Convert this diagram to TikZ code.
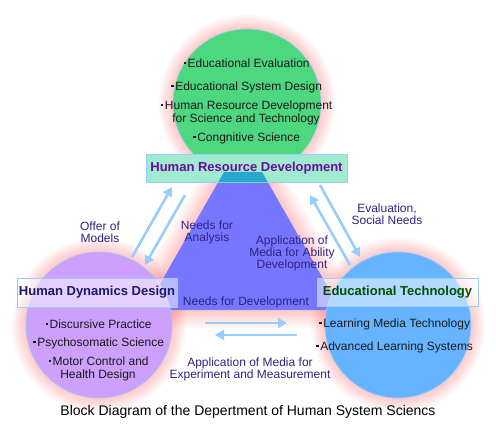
\documentclass[tikz,border=0pt]{standalone}
\usepackage{fontspec}
\setmainfont{Liberation Sans}
\usepackage{xcolor}
\usepackage{tikz}
\usetikzlibrary{arrows.meta, calc}

\definecolor{verdecerchio}{RGB}{77,216,128}
\definecolor{violacerchio}{RGB}{204,160,252}
\definecolor{azzurrocerchio}{RGB}{102,180,255}
\definecolor{triangolo}{RGB}{118,118,255}
\definecolor{bordo}{RGB}{153,204,255}
\definecolor{etich}{RGB}{45,35,130}
\definecolor{menta}{RGB}{160,234,208}
\definecolor{ottanio}{RGB}{40,168,204}
\definecolor{porpora}{RGB}{110,10,160}
\definecolor{blunotte}{RGB}{25,25,100}
\definecolor{verdescuro}{RGB}{0,80,0}

% puntino quadrato davanti alle voci
\newcommand{\pallino}{\hspace{1.5pt}\rule[3.4pt]{2.2pt}{2.2pt}\hspace{1.6pt}}

\begin{document}
\begin{tikzpicture}[x=1pt,y=-1pt,
    voce/.style={font=\fontsize{12}{12.5}\selectfont,text=black!90,align=center,inner sep=0pt},
    etichetta/.style={font=\fontsize{12}{12}\selectfont,text=etich,align=center,inner sep=0pt},
    riquadro/.style={rectangle,draw=bordo,line width=0.8pt,minimum height=28pt,inner sep=0pt,font=\fontsize{13}{13}\selectfont\bfseries},
    cerchio/.style={circle,draw=bordo,line width=0.6pt,minimum size=148pt,inner sep=0pt},
    freccia/.style={draw=bordo,line width=2.6pt,-{Triangle[length=9pt,width=10pt]}},
    bagliore/.style={fill=red,opacity=0.03}]
    \useasboundingbox (0,0) rectangle (496,432);

    % Centri e vertici
    \coordinate (cHR) at (247,103);
    \coordinate (cHD) at (99,325);
    \coordinate (cET) at (398,325);
    \coordinate (tA) at (224,172);
    \coordinate (tB) at (262,172);
    \coordinate (tC) at (341,310);
    \coordinate (tD) at (145,310);

    % Bagliore rosa
    \foreach \w in {36,31,...,6}
        \draw[red,opacity=0.03,line width=\w pt,line join=round] (tA) -- (tB) -- (tC) -- (tD) -- cycle;
    \foreach \r in {2,4,...,14} {
        \fill[bagliore] (cHR) circle (74+\r);
        \fill[bagliore] (cHD) circle (73+\r);
        \fill[bagliore] (cET) circle (73+\r);
    }

    % Triangolo centrale
    \fill[triangolo] (tA) -- (tB) -- (tC) -- (tD) -- cycle;

    % Cerchi
    \node[cerchio,fill=verdecerchio] (cerchioHR) at (cHR) {};
    \node[cerchio,fill=violacerchio,minimum size=146pt] (cerchioHD) at (cHD) {};
    \node[cerchio,fill=azzurrocerchio,minimum size=146pt] (cerchioET) at (cET) {};

    % Riquadri dei titoli
    \node[riquadro,fill=menta,minimum width=201pt] (boxHR) at (246.5,168) {};
    \fill[ottanio] (tA) -- (tB) -- ($(tB)!10/138!(tC)$) -- ($(tA)!10/138!(tD)$) -- cycle;
    \node[font=\fontsize{13}{13}\selectfont\bfseries,text=porpora] (titHR) at (boxHR) {Human Resource Development};
    \node[riquadro,fill=white,fill opacity=0.5,text opacity=1,text=blunotte,minimum width=160pt,minimum height=29pt] (boxHD) at (97,292.5) {Human Dynamics Design};
    \node[riquadro,fill=white,fill opacity=0.5,text opacity=1,text=verdescuro,minimum width=161pt] (boxET) at (397.5,292) {Educational Technology};

    % Voci nei cerchi
    \node[voce] (vEval) at (246,63) {\pallino Educational Evaluation};
    \node[voce] (vSist) at (246,87) {\pallino Educational System Design};
    \node[voce] (vRis) at (246,113) {\pallino Human Resource Development\\for Science and Technology};
    \node[voce] (vCogn) at (246,138) {\pallino Congnitive Science};
    \node[voce] (vDisc) at (98,324) {\pallino Discursive Practice};
    \node[voce] (vPsic) at (98,343) {\pallino Psychosomatic Science};
    \node[voce] (vMot) at (98,369) {\pallino Motor Control and\\Health Design};
    \node[voce] (vLearn) at (394,324) {\pallino Learning Media Technology};
    \node[voce] (vAdv) at (394,347) {\pallino Advanced Learning Systems};

    % Frecce
    \coordinate (sxSu0) at (132,257);   \coordinate (sxSu1) at (172,187);
    \coordinate (sxGiu0) at (185,195);  \coordinate (sxGiu1) at (145,265);
    \coordinate (dxSu0) at (350,265);   \coordinate (dxSu1) at (310,195);
    \coordinate (dxGiu0) at (320,185);  \coordinate (dxGiu1) at (360,257);
    \coordinate (bDx0) at (205,323);    \coordinate (bDx1) at (287,323);
    \coordinate (bSx0) at (297,335);    \coordinate (bSx1) at (215,335);
    \draw[freccia] (sxSu0) -- (sxSu1);
    \draw[freccia] (sxGiu0) -- (sxGiu1);
    \draw[freccia] (dxSu0) -- (dxSu1);
    \draw[freccia] (dxGiu0) -- (dxGiu1);
    \draw[freccia] (bDx0) -- (bDx1);
    \draw[freccia] (bSx0) -- (bSx1);

    % Etichette
    \node[etichetta] (eOffer) at (100,232) {Offer of\\Models};
    \node[etichetta] (eNeedsA) at (207,232) {Needs for\\Analysis};
    \node[etichetta] (eAppAb) at (292,253) {Application of\\Media for Ability\\Development};
    \node[etichetta] (eEval) at (387,214) {Evaluation,\\Social Needs};
    \node[etichetta] (eNeedsD) at (246,302) {Needs for Development};
    \node[etichetta] (eAppEx) at (250,369) {Application of Media for\\Experiment and Measurement};

    % Titolo
    \node[font=\fontsize{14}{14}\selectfont,text=black] (titolo) at (248,412) {Block Diagram of the Depertment of Human System Sciencs};
\end{tikzpicture}
\end{document}
